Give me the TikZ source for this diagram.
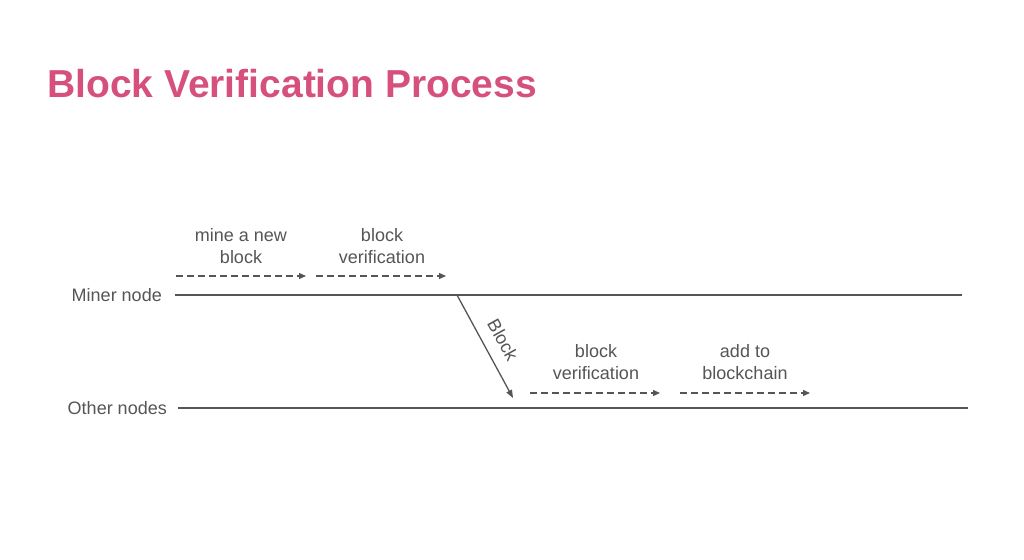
\documentclass[tikz,border=0pt]{standalone}
\usepackage{fontspec}
\setmainfont{Liberation Sans}
\usetikzlibrary{arrows.meta}
\definecolor{titlec}{HTML}{D6507E}
\definecolor{gr}{HTML}{555555}
\tikzset{x=1pt,y=-1pt,
 lbl/.style={text=gr,font=\fontsize{18}{21.5}\selectfont,align=center,inner sep=0pt},
 tl/.style={draw=gr,line width=1.3pt},
 da/.style={draw=gr,line width=1.3pt,dash pattern=on 7pt off 4pt,-{Triangle[length=7pt,width=6pt]}}}
\begin{document}
\begin{tikzpicture}
\useasboundingbox (0,0) rectangle (1024,559);
\node[anchor=west,text=titlec,font=\fontsize{39}{46}\selectfont\bfseries,inner sep=0pt] (t) at (47,84) {Block Verification Process};
\node[lbl,anchor=east] (mn) at (162,295) {Miner node};
\node[lbl,anchor=east] (on) at (167,408) {Other nodes};
\coordinate (m1) at (175,295); \coordinate (m2) at (962,295);
\coordinate (o1) at (178,408); \coordinate (o2) at (968,408);
\draw[tl] (m1) -- (m2);
\draw[tl] (o1) -- (o2);
\coordinate (a1) at (176,276); \coordinate (a2) at (306,276);
\coordinate (b1) at (316,276); \coordinate (b2) at (446,276);
\coordinate (c1) at (530,393); \coordinate (c2) at (660,393);
\coordinate (d1) at (680,393); \coordinate (d2) at (810,393);
\draw[da] (a1) -- (a2);
\draw[da] (b1) -- (b2);
\draw[da] (c1) -- (c2);
\draw[da] (d1) -- (d2);
\node[lbl] (la) at (241,246) {mine a new\\block};
\node[lbl] (lb) at (382,246) {block\\verification};
\node[lbl] (lc) at (596,362) {block\\verification};
\node[lbl] (ld) at (745,362) {add to\\blockchain};
\coordinate (s1) at (457,295); \coordinate (s2) at (513,398);
\draw[draw=gr,line width=1.3pt,-{Triangle[length=8pt,width=6pt]}] (s1) -- (s2);
\node[lbl,rotate=-61] (bl) at (503,340) {Block};
\end{tikzpicture}
\end{document}
